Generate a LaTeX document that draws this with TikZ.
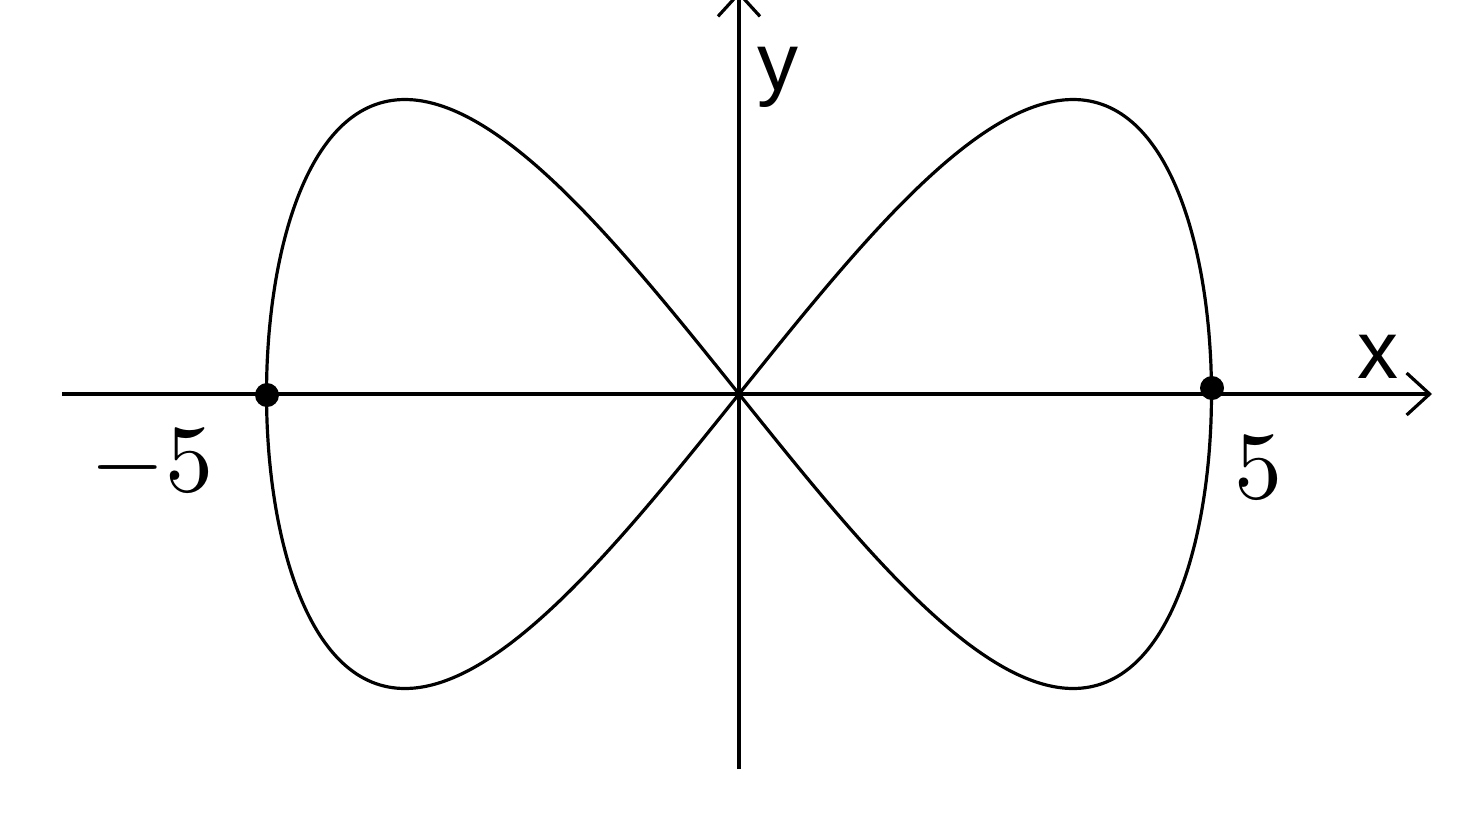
\documentclass[tikz,border=0pt]{standalone}
\usepackage{fontspec}
\newfontfamily\labelfont{Liberation Sans}
\usetikzlibrary{arrows.meta}
\begin{document}
\begin{tikzpicture}[x=0.5pt,y=-0.5pt,line width=1.6pt,
  axis/.style={line width=1.6pt,-{Straight Barb[length=11.5pt,width=21pt]}},
  curve/.style={line width=1.6pt,line join=round},
  dot/.style={circle,fill=black,inner sep=0pt,minimum size=12pt},
  axlabel/.style={font=\labelfont\fontsize{41pt}{41pt}\selectfont,anchor=base,inner sep=0pt},
  ticklabel/.style={font=\normalsize,scale=4.8,anchor=base,inner sep=0pt}]
\useasboundingbox (0,0) rectangle (1458,826);
\coordinate (xl) at (62,394);
\coordinate (xr) at (1432,394);
\coordinate (yb) at (739,769);
\coordinate (yt) at (739,-9);
\draw[axis] (xl) -- (xr);
\draw[axis] (yb) -- (yt);
\draw[curve] plot[domain=0:360,samples=241,smooth] ({739+472.5*cos(\x)},{394-294.5*sin(2*\x)}) -- cycle;
\node[dot] (pr) at (1212,388) {};
\node[dot] (pl) at (267,395) {};
\node[axlabel] (xlab) at (1378,378) {x};
\node[axlabel] (ylab) at (778,90) {y};
\node[ticklabel] (ml) at (152,491) {$-5$};
\node[ticklabel] (mr) at (1258,498) {$5$};
\end{tikzpicture}
\end{document}
